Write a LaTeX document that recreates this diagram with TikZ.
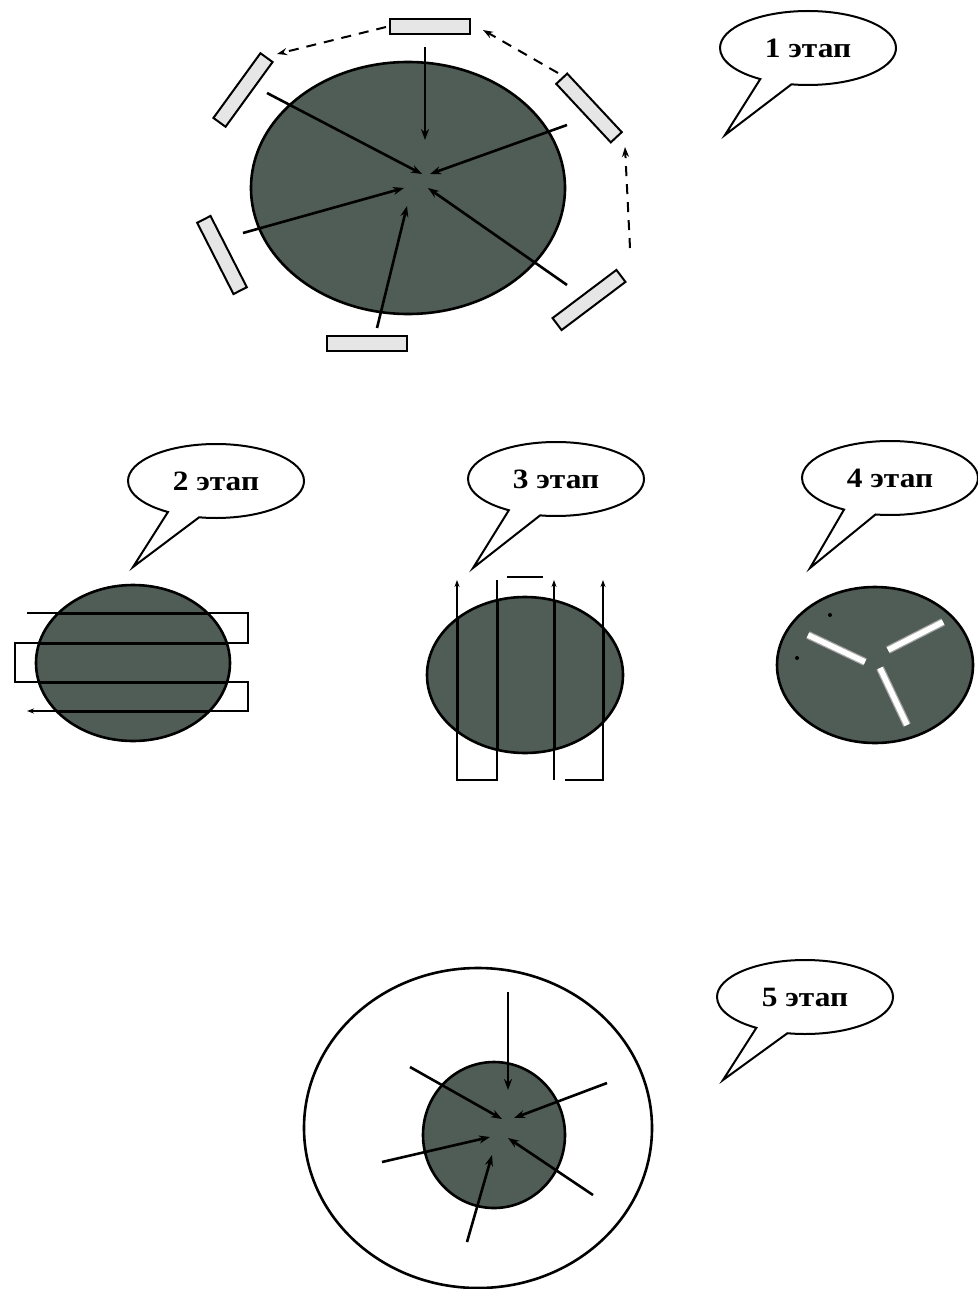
\documentclass[tikz,border=0pt]{standalone}
\usepackage{fontspec}
\setmainfont{Liberation Serif}
\usetikzlibrary{shapes.geometric,shapes.callouts,arrows.meta}
\definecolor{diskc}{RGB}{80,92,86}
\definecolor{platec}{RGB}{230,230,230}
\begin{document}
\begin{tikzpicture}[x=1pt,y=-1pt,
  disk/.style={ellipse,draw=black,line width=2.6pt,fill=diskc,inner sep=0pt},
  plate/.style={rectangle,draw=black,line width=2pt,fill=platec,minimum width=80pt,minimum height=15pt,inner sep=0pt},
  arr/.style={line width=2.6pt,-{Stealth[length=11pt,width=8pt]}},
  darr/.style={line width=2pt,dash pattern=on 10pt off 8pt,-{Stealth[length=10pt,width=7pt]}},
  bubble/.style={ellipse callout,draw=black,line width=2pt,fill=white,minimum width=176pt,minimum height=74pt,inner sep=0pt,callout pointer arc=22,font=\fontsize{28}{28}\selectfont\bfseries},
  flow/.style={line width=1.2pt},
  flowin/.style={line width=3pt},
  fhead/.style={-{Stealth[length=7pt,width=5pt]}},
  slit/.style={line width=8pt,draw=gray!70},
  slitin/.style={line width=5.5pt,draw=white}
]
\useasboundingbox (0,0) rectangle (977,1289);

% ===== Stage 1 =====
\node[disk,minimum width=314pt,minimum height=252pt] (d1) at (408,188) {};
\node[plate] (p1) at (430,27) {};
\node[plate,rotate=54] (p2) at (243,90) {};
\node[plate,rotate=-47] (p3) at (589,108) {};
\node[plate,rotate=-63] (p4) at (222,255) {};
\node[plate,rotate=37] (p5) at (589,300) {};
\node[plate] (p6) at (367,343) {};
\draw[arr] (425,47) -- (425,140);
\draw[arr] (267,93) -- (422,174);
\draw[arr] (567,125) -- (430,174);
\draw[arr] (243,233) -- (404,188);
\draw[arr] (377,328) -- (407,206);
\draw[arr] (567,285) -- (428,188);
\draw[darr] (386,27) -- (277,54);
\draw[darr] (558,73) -- (483,30);
\draw[darr] (630,248) -- (625,147);
\node[bubble,callout absolute pointer={(725,135)}] (b1) at (808,48) {\scalebox{1.12}[1]{1 этап}};

% ===== Stage 2 =====
\node[bubble,callout absolute pointer={(133,567)}] (b2) at (216,481) {\scalebox{1.12}[1]{2 этап}};
\node[disk,minimum width=194pt,minimum height=156pt] (d2) at (133,663) {};
\draw[flow,fhead] (27,613) -- (248,613) -- (248,643) -- (15,643) -- (15,682) -- (248,682) -- (248,711) -- (27,711);
\begin{scope}
  \clip (133,663) ellipse [x radius=97, y radius=78];
  \foreach \yy in {613,643,682,711} \draw[flowin] (0,\yy) -- (260,\yy);
\end{scope}

% ===== Stage 3 =====
\node[bubble,callout absolute pointer={(473,568)}] (b3) at (556,479) {\scalebox{1.12}[1]{3 этап}};
\node[disk,minimum width=196pt,minimum height=156pt] (d3) at (525,675) {};
\draw[flow,fhead] (497,580) -- (497,780) -- (457,780) -- (457,580);
\draw[flow,fhead] (565,780) -- (603,780) -- (603,580);
\draw[flow,fhead] (554,780) -- (554,580);
\draw[flow] (507,577) -- (543,577);
\begin{scope}
  \clip (525,675) ellipse [x radius=98, y radius=78];
  \foreach \xx in {457,497,554,603} \draw[flowin] (\xx,580) -- (\xx,780);
\end{scope}

% ===== Stage 4 =====
\node[bubble,callout absolute pointer={(810,568)}] (b4) at (890,478) {\scalebox{1.12}[1]{4 этап}};
\node[disk,minimum width=196pt,minimum height=156pt] (d4) at (875,665) {};
\draw[slit] (808,635) -- (865,662);
\draw[slit] (888,650) -- (943,622);
\draw[slit] (880,668) -- (907,725);
\draw[slitin] (808,635) -- (865,662);
\draw[slitin] (888,650) -- (943,622);
\draw[slitin] (880,668) -- (907,725);
\fill[black] (830,615) circle (2);
\fill[black] (797,658) circle (2);

% ===== Stage 5 =====
\node[ellipse,draw=black,line width=2.6pt,fill=white,minimum width=348pt,minimum height=320pt,inner sep=0pt] (o5) at (478,1128) {};
\node[disk,minimum width=142pt,minimum height=146pt] (d5) at (494,1135) {};
\draw[arr] (508,992) -- (508,1090);
\draw[arr] (410,1067) -- (502,1119);
\draw[arr] (607,1083) -- (514,1118);
\draw[arr] (382,1162) -- (490,1137);
\draw[arr] (467,1242) -- (492,1155);
\draw[arr] (593,1195) -- (508,1138);
\node[bubble,callout absolute pointer={(723,1080)}] (b5) at (805,997) {\scalebox{1.12}[1]{5 этап}};
\end{tikzpicture}
\end{document}
